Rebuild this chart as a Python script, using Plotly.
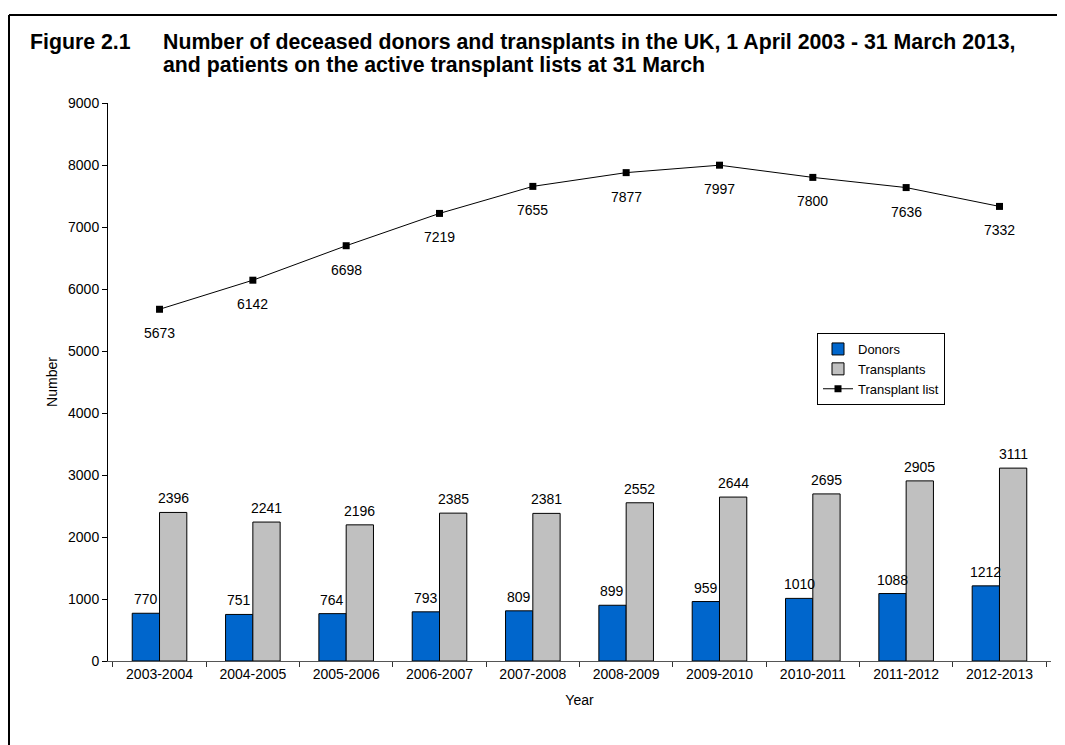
import plotly.graph_objects as go

years = ["2003-2004", "2004-2005", "2005-2006", "2006-2007", "2007-2008",
         "2008-2009", "2009-2010", "2010-2011", "2011-2012", "2012-2013"]
donors = [770, 751, 764, 793, 809, 899, 959, 1010, 1088, 1212]
transplants = [2396, 2241, 2196, 2385, 2381, 2552, 2644, 2695, 2905, 3111]
transplant_list = [5673, 6142, 6698, 7219, 7655, 7877, 7997, 7800, 7636, 7332]

FONT = "Liberation Sans, Arial, sans-serif"

# Layout geometry (page has an 8px body margin)
W, H = 1057, 737
L, R, T, B = 100, 14, 95, 84
PW = W - L - R   # 943
PH = H - T - B   # 558


def px(X):
    """reference-image x pixel -> paper x"""
    return (X - 8 - L) / PW


def py(Y):
    """reference-image y pixel -> paper y"""
    return (H - B - (Y - 8)) / PH


BARGAP = 0.415
cat_px = PW / len(years)
bar_half = (1 - BARGAP) / 2 * cat_px / 2

fig = go.Figure()
fig.add_trace(go.Bar(
    x=years, y=donors, name="Donors",
    marker=dict(color="#0066CC", line=dict(color="#000000", width=1)),
))
fig.add_trace(go.Bar(
    x=years, y=transplants, name="Transplants",
    marker=dict(color="#C0C0C0", line=dict(color="#000000", width=1)),
))
fig.add_trace(go.Scatter(
    x=years, y=transplant_list, name="Transplant list",
    mode="lines+markers",
    line=dict(color="#000000", width=1),
    marker=dict(symbol="square", size=7, color="#000000"),
))

lab_font = dict(size=14, color="#000000", family=FONT)
for yr, v in zip(years, donors):
    fig.add_annotation(x=yr, y=v, xref="x", yref="y", text=str(v),
                       showarrow=False, xshift=-bar_half, yanchor="bottom", yshift=4,
                       font=lab_font)
for yr, v in zip(years, transplants):
    fig.add_annotation(x=yr, y=v, xref="x", yref="y", text=str(v),
                       showarrow=False, xshift=bar_half, yanchor="bottom", yshift=4,
                       font=lab_font)
for yr, v in zip(years, transplant_list):
    fig.add_annotation(x=yr, y=v, xref="x", yref="y", text=str(v),
                       showarrow=False, yshift=-24,
                       font=lab_font)

# Title texts
title_font = dict(size=21.3, color="#000000", family=FONT)
fig.add_annotation(xref="paper", yref="paper", x=px(28), y=py(28),
                   xanchor="left", yanchor="top", showarrow=False, align="left",
                   text="<b>Figure 2.1</b>", font=title_font)
fig.add_annotation(xref="paper", yref="paper", x=px(161), y=py(28),
                   xanchor="left", yanchor="top", showarrow=False, align="left",
                   text="<b>Number of deceased donors and transplants in the UK, 1 April 2003 - 31 March 2013,</b>",
                   font=title_font)
fig.add_annotation(xref="paper", yref="paper", x=px(161), y=py(51),
                   xanchor="left", yanchor="top", showarrow=False, align="left",
                   text="<b>and patients on the active transplant lists at 31 March</b>",
                   font=title_font)

# Outer frame (top and left edges)
fig.add_shape(type="line", xref="paper", yref="paper",
              x0=px(9), x1=px(1090), y0=py(15), y1=py(15),
              line=dict(color="#000000", width=2))
fig.add_shape(type="line", xref="paper", yref="paper",
              x0=px(9), x1=px(9), y0=py(15), y1=py(770),
              line=dict(color="#000000", width=2))

fig.update_layout(
    width=W, height=H,
    margin=dict(l=L, r=R, t=T, b=B, autoexpand=False),
    paper_bgcolor="#FFFFFF", plot_bgcolor="#FFFFFF",
    font=dict(family=FONT, size=14, color="#000000"),
    barmode="group", bargap=BARGAP, bargroupgap=0,
    showlegend=True,
    legend=dict(x=px(817), y=py(333), xanchor="left", yanchor="top",
                bgcolor="#FFFFFF", bordercolor="#000000", borderwidth=1,
                font=dict(size=13, family=FONT), tracegroupgap=0,
                itemwidth=30),
    xaxis=dict(
        title=dict(text="Year", font=dict(size=14), standoff=14),
        showline=True, linecolor="#555555", linewidth=1,
        ticks="outside", ticklen=5, tickcolor="#333333", tickson="boundaries",
        showgrid=False, tickfont=dict(size=14),
    ),
    yaxis=dict(
        title=dict(text="Number", font=dict(size=14), standoff=7),
        range=[0, 9000], dtick=1000,
        showline=True, linecolor="#000000", linewidth=1,
        ticks="outside", ticklen=5, tickcolor="#000000",
        showgrid=False, zeroline=False, tickfont=dict(size=14),
    ),
)

fig.write_html("out.html")
